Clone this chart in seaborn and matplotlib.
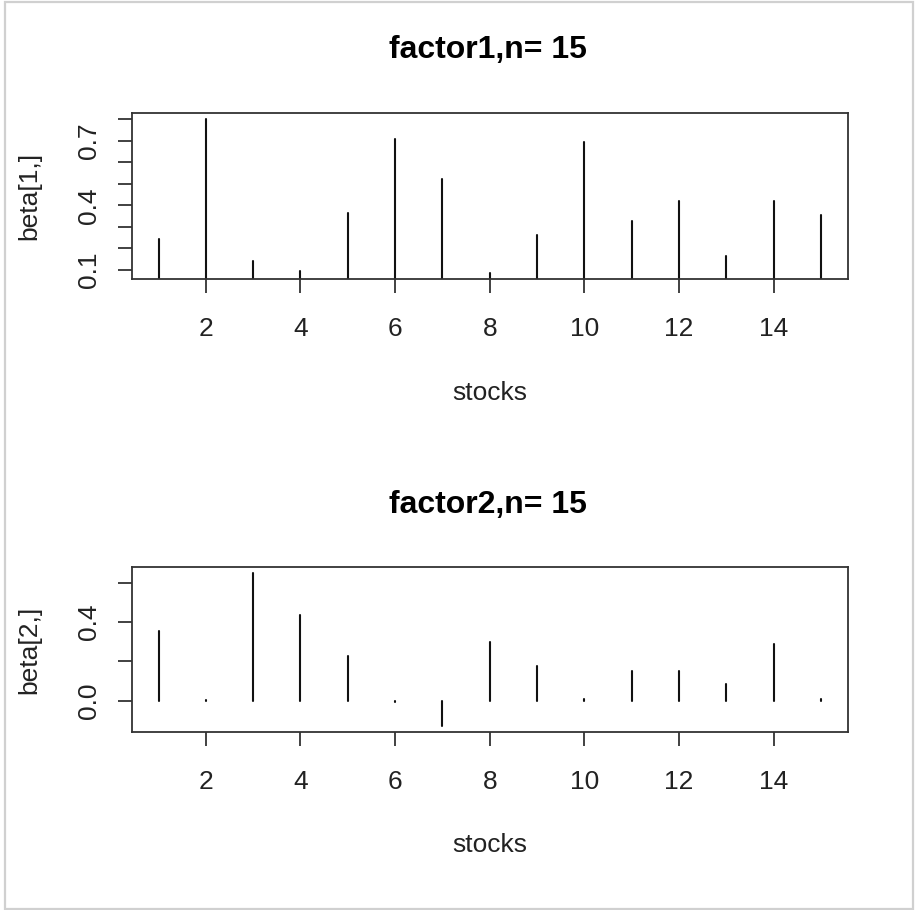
import numpy as np
import pandas as pd
import matplotlib
matplotlib.use("Agg")
import matplotlib.pyplot as plt
from matplotlib.patches import Rectangle
import seaborn as sns

# ---- data ----
stocks = [1, 2, 3, 4, 5, 6, 7, 8, 9, 10, 11, 12, 13, 14, 15]
beta1 = [0.244, 0.800, 0.142, 0.095, 0.363, 0.708, 0.524, 0.087,
         0.264, 0.693, 0.326, 0.418, 0.165, 0.418, 0.356]
beta2 = [0.354, 0.005, 0.652, 0.435, 0.226, -0.007, -0.131, 0.299,
         0.175, 0.006, 0.150, 0.150, 0.085, 0.291, 0.006]
titles = ["factor1,n= 15", "factor2,n= 15"]
ylabels = ["beta[1,]", "beta[2,]"]
xlabel = "stocks"
xticks = [2, 4, 6, 8, 10, 12, 14]
yticks1 = [0.1, 0.2, 0.3, 0.4, 0.5, 0.6, 0.7, 0.8]
yticklabels1 = ["0.1", "", "", "0.4", "", "", "0.7", ""]
yticks2 = [0.0, 0.2, 0.4, 0.6]
yticklabels2 = ["0.0", "", "0.4", ""]

sns.set_style("ticks")
plt.rcParams["font.family"] = ["Liberation Sans", "DejaVu Sans"]

W, H = 915, 910
fig = plt.figure(figsize=(W / 100, H / 100), dpi=100)
fig.patch.set_facecolor("white")

txt = "#222222"
spine_c = "#333333"

def px(x, y):
    return x / W, 1 - y / H

def make_df(vals):
    rows = []
    for s, v in zip(stocks, vals):
        rows.append({"stock": s, "beta": 0.0})
        rows.append({"stock": s, "beta": v})
    return pd.DataFrame(rows)

panels = [
    dict(vals=beta1, top=113, bot=279, yt=yticks1, ytl=yticklabels1,
         title=titles[0], ylab=ylabels[0], ty=50, xly=393),
    dict(vals=beta2, top=566.7, bot=732.3, yt=yticks2, ytl=yticklabels2,
         title=titles[1], ylab=ylabels[1], ty=505, xly=845),
]

FS = 19
left, right = 132, 847.5
for p in panels:
    ax = fig.add_axes([left / W, 1 - p["bot"] / H, (right - left) / W,
                       (p["bot"] - p["top"]) / H])
    df = make_df(p["vals"])
    sns.lineplot(data=df, x="stock", y="beta", units="stock", estimator=None,
                 sort=False, color="#111111", lw=1.5, ax=ax,
                 solid_capstyle="round")
    vmin, vmax = min(p["vals"]), max(p["vals"])
    r = vmax - vmin
    ax.set_ylim(vmin - 0.04 * r, vmax + 0.04 * r)
    ax.set_xlim(1 - 0.04 * 14, 15 + 0.04 * 14)
    ax.set_xticks(xticks)
    ax.set_xticklabels([str(t) for t in xticks])
    ax.set_yticks(p["yt"])
    ax.set_yticklabels(p["ytl"], rotation=90, va="center")
    ax.tick_params(axis="both", direction="out", length=10, width=1.3,
                   color=spine_c, labelsize=FS, labelcolor=txt)
    ax.tick_params(axis="x", pad=17)
    ax.tick_params(axis="y", pad=12)
    for s in ax.spines.values():
        s.set_visible(True)
        s.set_color(spine_c)
        s.set_linewidth(1.3)
    ax.set_xlabel("")
    ax.set_ylabel("")
    cx = (left + right) / 2
    cy = (p["top"] + p["bot"]) / 2
    fig.text(*px(cx - 2, p["ty"]), p["title"], ha="center", va="center",
             fontsize=23, fontweight="bold", color="black")
    fig.text(*px(cx, p["xly"]), xlabel, ha="center", va="center",
             fontsize=FS, color=txt)
    fig.text(*px(29, cy), p["ylab"], ha="center", va="center",
             rotation=90, fontsize=FS, color=txt)

# light gray frame around the picture
fig.patches.append(Rectangle((4.5 / W, 1.5 / H), (912.5 - 4.5) / W,
                             (908 - 1.5) / H, transform=fig.transFigure,
                             fill=False, edgecolor="#d0d0d0", lw=1.6))

fig.savefig("out.png", dpi=100)
